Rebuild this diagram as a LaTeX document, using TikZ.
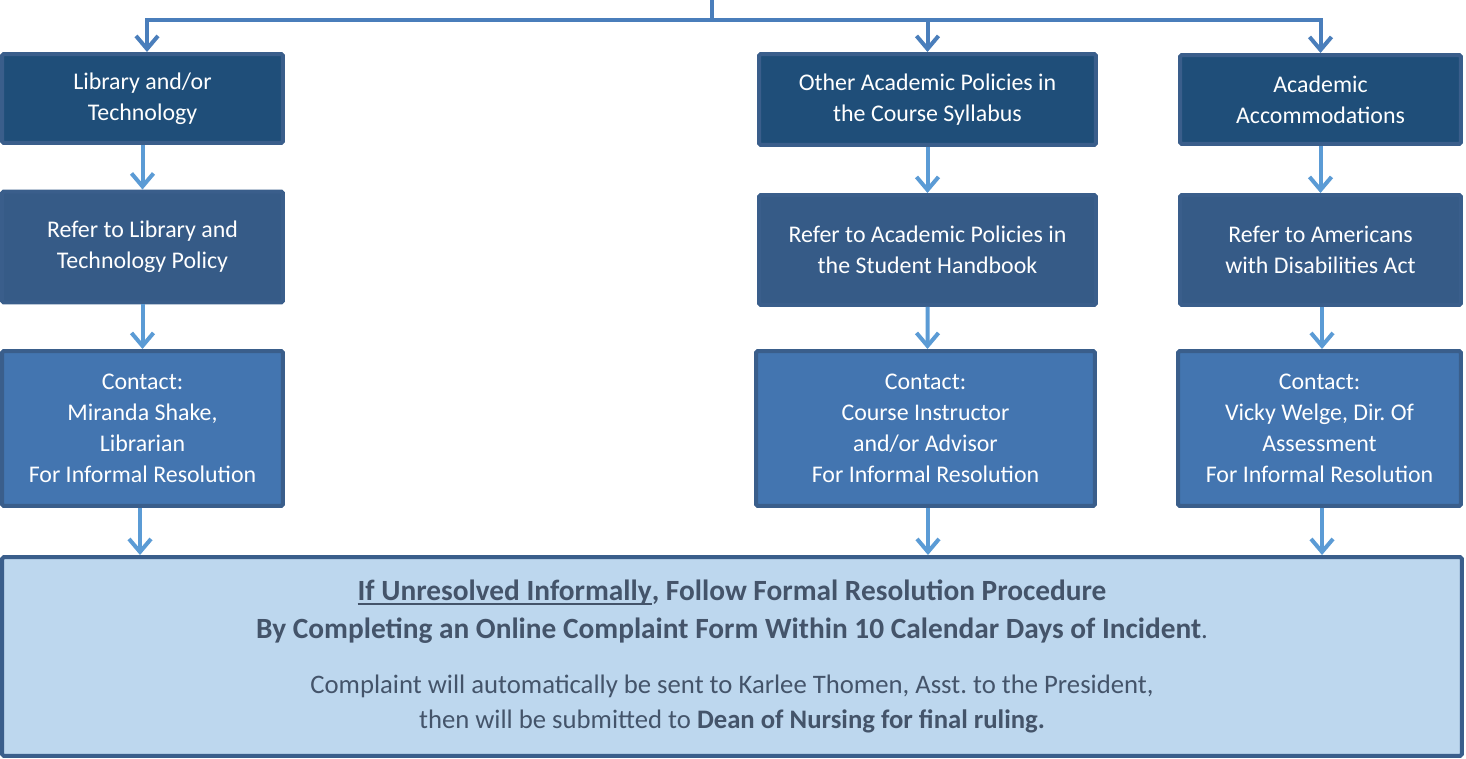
\documentclass[tikz,border=0pt]{standalone}
\usepackage{fontspec}
\setmainfont{Carlito}
\usetikzlibrary{arrows.meta,positioning}
\frenchspacing
\definecolor{headfill}{HTML}{1F4E79}
\definecolor{referfill}{HTML}{365B87}
\definecolor{contactfill}{HTML}{4375B0}
\definecolor{boxline}{HTML}{3A5E8B}
\definecolor{finalfill}{HTML}{BDD7EE}
\definecolor{finaltext}{HTML}{44546A}
\definecolor{branch}{HTML}{4A7EBB}
\definecolor{flow}{HTML}{5B9BD5}
\newcommand\lowline[1]{\setbox0\hbox{#1}\rlap{\rule[-2.8pt]{\wd0}{1pt}}\box0}
\newcommand\finalbf[1]{{\fontsize{16.7}{20.4}\selectfont\bfseries #1}}

\begin{document}
\begin{tikzpicture}[x=0.02cm,y=-0.02cm,
    box/.style={draw=boxline, line width=0.08cm, rounded corners=1pt, text=white,
      align=center, inner sep=0pt, font=\fontsize{13.6}{17.6}\selectfont},
    head/.style={box, fill=headfill},
    refer/.style={box, fill=referfill},
    contact/.style={box, fill=contactfill},
    branchline/.style={draw=branch, line width=0.08cm},
    flowarrow/.style={draw=flow, line width=0.08cm, -{Straight Barb[length=0.26cm,width=0.44cm]}}]
      \useasboundingbox (0,0) rectangle (1466,759);
      % Branch heads
      \node[head, minimum width=5.62cm, minimum height=1.78cm] (lib) at (142.5,98.5) {Library and/or\\Technology};
      \node[head, minimum width=6.74cm, minimum height=1.82cm] (acad) at (927.5,99.5) {Other Academic Policies in\\the Course Syllabus};
      \node[head, minimum width=5.62cm, minimum height=1.78cm] (accom) at (1320.5,99.5) {Academic\\Accommodations};
      % Policy references
      \node[refer, minimum width=5.62cm, minimum height=2.22cm] (libref) at (142.5,247) {Refer to Library and\\Technology Policy};
      \node[refer, minimum width=6.74cm, minimum height=2.2cm] (acadref) at (927.5,250) {Refer to Academic Policies in\\the Student Handbook};
      \node[refer, minimum width=5.62cm, minimum height=2.2cm] (accomref) at (1320.5,250) {Refer to Americans\\with Disabilities Act};
      % Contacts
      \node[contact, minimum width=5.62cm, minimum height=3.1cm] (libcon) at (142.5,428.5) {Contact:\\Miranda Shake,\\Librarian\\For Informal Resolution};
      \node[contact, minimum width=6.78cm, minimum height=3.1cm] (acadcon) at (925.5,428.5) {Contact:\\Course Instructor\\and/or Advisor\\For Informal Resolution};
      \node[contact, minimum width=5.66cm, minimum height=3.1cm] (accomcon) at (1319.5,428.5) {Contact:\\Vicky Welge, Dir. Of\\Assessment\\For Informal Resolution};
      % Formal resolution
      \node[box, fill=finalfill, text=finaltext, minimum width=29.2cm, minimum height=3.98cm,
        font=\fontsize{15.2}{20.4}\selectfont] (final) at (732,656.5)
        {\finalbf{\lowline{If Unresolved Informally}, Follow Formal Resolution Procedure}\\[1.2pt]
         \finalbf{By Completing an Online Complaint Form Within 10 Calendar Days of Incident}.\\[10.8pt]
         Complaint will automatically be sent to Karlee Thomen, Asst. to the President,\\
         then will be submitted to \textbf{Dean of Nursing for final ruling.}};
      % Top branch
      \coordinate (top) at (712,0);
      \coordinate (hub) at (712,20);
      \draw[branchline] (top) -- (hub);
      \draw[branchline, -{Straight Barb[length=0.26cm,width=0.44cm]}] (hub) -| ([xshift=0.09cm]lib.north);
      \draw[branchline, -{Straight Barb[length=0.26cm,width=0.44cm]}] (hub) -| (acad.north);
      \draw[branchline, -{Straight Barb[length=0.26cm,width=0.44cm]}] (hub) -| (accom.north);
      % Flow arrows
      \draw[flowarrow] (lib.south) -- (libref.north);
      \draw[flowarrow] (acad.south) -- (acadref.north);
      \draw[flowarrow] (accom.south) -- (accomref.north);
      \draw[flowarrow] (libref.south) -- (libcon.north);
      \draw[flowarrow] (acadref.south) -- ([xshift=0.04cm]acadcon.north);
      \draw[flowarrow] ([xshift=0.03cm]accomref.south) -- ([xshift=0.05cm]accomcon.north);
      \draw[flowarrow] ([xshift=-0.05cm]libcon.south) -- ([xshift=-0.05cm]libcon.south |- final.north);
      \draw[flowarrow] ([xshift=0.05cm]acadcon.south) -- ([xshift=0.05cm]acadcon.south |- final.north);
      \draw[flowarrow] ([xshift=0.05cm]accomcon.south) -- ([xshift=0.05cm]accomcon.south |- final.north);
    \end{tikzpicture}
\end{document}
